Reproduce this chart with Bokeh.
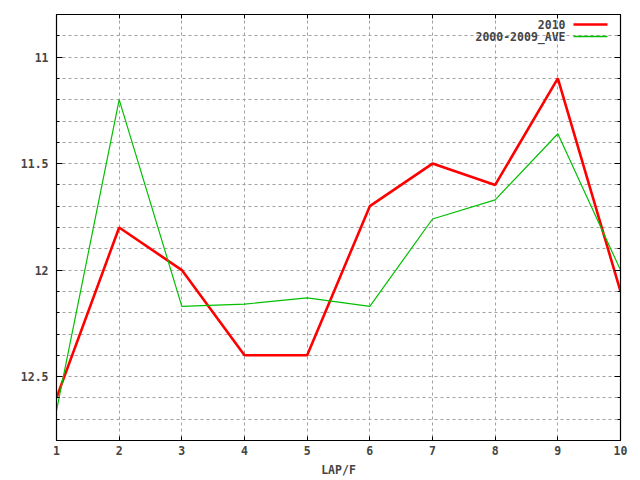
from bokeh.plotting import figure
from bokeh.models import Range1d, FixedTicker, LinearAxis, PrintfTickFormatter, CustomJSTickFormatter, Label, BoxAnnotation
from bokeh.embed import file_html
from bokeh.resources import INLINE

# lap times per lap (seconds)
laps = [1, 2, 3, 4, 5, 6, 7, 8, 9, 10]
t2010 = [12.6, 11.8, 12.0, 12.4, 12.4, 11.7, 11.5, 11.6, 11.1, 12.1]
t_ave = [12.66, 11.2, 12.17, 12.16, 12.13, 12.17, 11.76, 11.67, 11.36, 12.0]

y_major = [11, 11.5, 12, 12.5]
y_minor = [10.8, 10.9, 11.1, 11.2, 11.3, 11.4, 11.6, 11.7, 11.8, 11.9,
           12.1, 12.2, 12.3, 12.4, 12.6, 12.7, 12.8]

FONT = "DejaVu Sans Mono"
FS = "11.5px"

p = figure(width=640, height=480, output_backend="svg", toolbar_location=None,
           x_range=Range1d(1, 10), y_range=Range1d(12.8, 10.8),
           min_border_left=56, min_border_right=20, min_border_top=14, min_border_bottom=40,
           x_axis_label="LAP/F")
p.outline_line_color = "black"
p.outline_line_width = 1.2
p.background_fill_color = "white"
p.border_fill_color = "white"

xt = FixedTicker(ticks=laps)
yt = FixedTicker(ticks=y_major, minor_ticks=y_minor)

p.xaxis.ticker = xt
p.yaxis.ticker = yt
p.yaxis.formatter = PrintfTickFormatter(format="%g")

for ax in p.xaxis + p.yaxis:
    ax.axis_line_color = "black"
    ax.major_tick_in = 6
    ax.major_tick_out = 0
    ax.minor_tick_in = 3
    ax.minor_tick_out = 0
    ax.major_label_text_font = FONT
    ax.major_label_text_font_size = FS
    ax.major_label_text_font_style = "bold"
    ax.major_label_standoff = 8
    ax.axis_label_text_font = FONT
    ax.axis_label_text_font_size = FS
    ax.axis_label_text_font_style = "bold"
p.xaxis.major_tick_in = 4
p.xaxis.major_label_standoff = 5
p.xaxis.axis_label_standoff = 5

# mirrored ticks on top and right, no labels
blank = CustomJSTickFormatter(code="return ''")
top = LinearAxis(ticker=xt, formatter=blank, major_tick_in=4, major_tick_out=0,
                 minor_tick_in=0, minor_tick_out=0, major_label_standoff=0, axis_line_color="black")
right = LinearAxis(ticker=yt, formatter=blank, major_tick_in=6, major_tick_out=0,
                   minor_tick_in=3, minor_tick_out=0, major_label_standoff=0, axis_line_color="black")
p.add_layout(top, "above")
p.add_layout(right, "right")

p.xgrid.ticker = xt
p.ygrid.ticker = yt
for g in (p.xgrid, p.ygrid):
    g.grid_line_color = "#a0a0a0"
    g.grid_line_dash = "3 3"
    g.grid_line_width = 1
p.ygrid.minor_grid_line_color = "#a0a0a0"
p.ygrid.minor_grid_line_dash = "3 3"

p.line(laps, t2010, line_color="#ff0000", line_width=2.6)
p.line(laps, t_ave, line_color="#00c000", line_width=1.2)

# legend: text right-aligned, sample line to the right (screen units from frame bottom-left)
for i, (name, col, lw) in enumerate([("2010", "#ff0000", 2.6), ("2000-2009_AVE", "#00c000", 1.5)]):
    yc = 416 - 12 * i
    p.add_layout(Label(x=509, y=yc, x_units="screen", y_units="screen", text=name,
                       text_font=FONT, text_font_size=FS, text_font_style="bold",
                       text_align="right", text_baseline="middle"))
    p.add_layout(BoxAnnotation(left=517, right=551, top=yc + lw / 2, bottom=yc - lw / 2,
                               left_units="screen", right_units="screen", top_units="screen",
                               bottom_units="screen", fill_color=col, fill_alpha=1, line_color=None))

open("out.html", "w").write(file_html(p, INLINE))
